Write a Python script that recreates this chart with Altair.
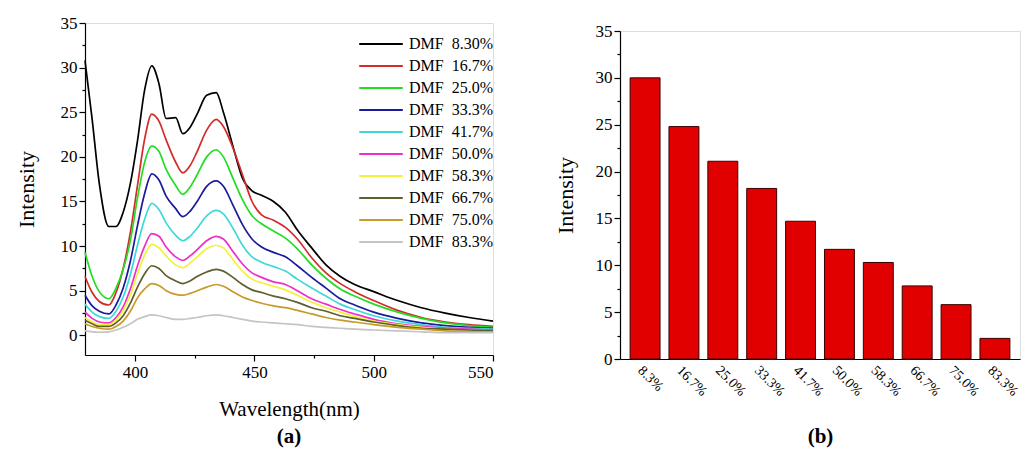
import altair as alt
import pandas as pd

# ---------------- data ----------------
wavelength = [379, 382, 385, 389, 392, 395, 398, 401, 404, 407, 410, 413, 417, 420,
              423, 426, 430, 434, 437, 441, 445, 449, 453, 458, 463, 468, 474, 480,
              486, 492, 500, 510, 520, 530, 540, 550]

series_names = ["DMF\u00a0\u00a08.30%", "DMF\u00a0\u00a016.7%", "DMF\u00a0\u00a025.0%",
                "DMF\u00a0\u00a033.3%", "DMF\u00a0\u00a041.7%", "DMF\u00a0\u00a050.0%",
                "DMF\u00a0\u00a058.3%", "DMF\u00a0\u00a066.7%", "DMF\u00a0\u00a075.0%",
                "DMF\u00a0\u00a083.3%"]
series_colors = ["#000000", "#d42a2a", "#22dd22", "#1a1a9a", "#3fd8d8",
                 "#ee2fc8", "#f2f23a", "#5e5e2e", "#c89a28", "#c4c4c4"]

s083 = [30.8, 24.2, 17.0, 12.2, 12.2, 13.8, 17.0, 21.8, 27.5, 30.2, 28.2, 24.3, 24.4, 22.6,
        23.3, 24.8, 26.9, 27.2, 25.0, 21.2, 17.6, 16.2, 15.7, 15.0, 13.8, 11.8, 9.8, 7.9,
        6.6, 5.7, 4.9, 3.9, 3.1, 2.5, 2.0, 1.6]
s167 = [6.6, 4.8, 3.8, 3.4, 4.8, 7.5, 11.5, 16.8, 22.0, 24.8, 24.0, 21.9, 19.4, 18.2,
        19.0, 20.6, 23.0, 24.2, 23.4, 21.0, 18.0, 15.0, 13.5, 12.9, 12.1, 10.8, 8.7, 7.0,
        5.8, 4.9, 3.9, 2.8, 2.0, 1.5, 1.2, 1.0]
s250 = [9.3, 6.6, 4.9, 4.1, 5.3, 7.4, 10.6, 15.4, 19.4, 21.2, 20.6, 18.6, 16.8, 15.8,
        16.6, 18.0, 20.0, 20.8, 20.0, 17.6, 15.2, 13.4, 12.5, 11.7, 10.9, 9.7, 7.9, 6.4,
        5.2, 4.4, 3.5, 2.6, 1.9, 1.4, 1.1, 0.9]
s333 = [4.5, 3.3, 2.7, 2.4, 3.4, 5.3, 8.3, 12.3, 15.9, 18.1, 17.4, 15.6, 14.2, 13.3,
        13.9, 15.0, 16.7, 17.3, 16.7, 14.6, 12.4, 10.8, 9.9, 9.3, 8.8, 7.8, 6.5, 5.3,
        4.1, 3.4, 2.6, 1.9, 1.4, 1.1, 0.9, 0.8]
s417 = [3.5, 2.6, 2.1, 1.9, 2.7, 4.3, 6.8, 10.1, 13.0, 14.8, 14.1, 12.6, 11.2, 10.6,
        11.1, 12.0, 13.4, 14.0, 13.6, 12.0, 10.1, 8.8, 8.2, 7.7, 7.2, 6.3, 5.3, 4.4,
        3.5, 2.9, 2.2, 1.6, 1.2, 0.9, 0.8, 0.7]
s500 = [2.6, 1.9, 1.5, 1.4, 2.0, 3.2, 5.2, 7.8, 10.0, 11.4, 11.1, 9.9, 8.8, 8.4,
        8.9, 9.6, 10.6, 11.1, 10.8, 9.4, 8.0, 7.0, 6.5, 6.0, 5.7, 5.0, 4.1, 3.5,
        2.9, 2.4, 1.8, 1.3, 1.0, 0.8, 0.7, 0.6]
s583 = [2.0, 1.5, 1.2, 1.2, 1.7, 2.8, 4.5, 6.9, 9.0, 10.2, 9.8, 8.9, 7.9, 7.6,
        8.1, 8.8, 9.7, 10.1, 9.8, 8.5, 7.2, 6.3, 5.9, 5.5, 5.1, 4.5, 3.7, 3.1,
        2.6, 2.1, 1.6, 1.2, 0.9, 0.7, 0.6, 0.5]
s667 = [1.7, 1.3, 1.0, 1.0, 1.4, 2.2, 3.6, 5.4, 6.9, 7.8, 7.5, 6.7, 6.1, 5.8,
        6.1, 6.6, 7.1, 7.4, 7.2, 6.5, 5.7, 5.1, 4.8, 4.4, 4.1, 3.7, 3.1, 2.7,
        2.2, 1.9, 1.5, 1.1, 0.8, 0.7, 0.6, 0.5]
s750 = [1.3, 1.0, 0.8, 0.7, 1.0, 1.6, 2.7, 4.2, 5.2, 5.8, 5.6, 5.0, 4.6, 4.5,
        4.7, 5.0, 5.4, 5.7, 5.5, 4.9, 4.3, 3.9, 3.6, 3.3, 3.1, 2.8, 2.4, 2.0,
        1.7, 1.5, 1.2, 0.9, 0.7, 0.5, 0.4, 0.4]
s833 = [0.5, 0.4, 0.35, 0.4, 0.6, 0.9, 1.3, 1.8, 2.1, 2.3, 2.2, 2.0, 1.8, 1.8,
        1.9, 2.0, 2.2, 2.3, 2.2, 2.0, 1.8, 1.6, 1.5, 1.4, 1.3, 1.2, 1.0, 0.9,
        0.8, 0.7, 0.6, 0.5, 0.4, 0.3, 0.3, 0.3]
all_series = [s083, s167, s250, s333, s417, s500, s583, s667, s750, s833]

bar_categories = ["8.3%", "16.7%", "25.0%", "33.3%", "41.7%", "50.0%", "58.3%", "66.7%", "75.0%", "83.3%"]
bar_values = [30.0, 24.8, 21.1, 18.2, 14.7, 11.7, 10.3, 7.8, 5.8, 2.2]

y_ticks = [i * 2.5 for i in range(15)]
x_ticks = [400, 425, 450, 475, 500, 525, 550]

FONT = "Liberation Serif"

# ---------------- tables ----------------
rows = []
for name, vals in zip(series_names, all_series):
    for w, v in zip(wavelength, vals):
        rows.append({"wl": w, "val": v, "series": name})
spec_df = pd.DataFrame(rows)
bar_df = pd.DataFrame({"cat": bar_categories, "v": bar_values})

axis_common = dict(domainColor="black", tickColor="black", labelColor="black",
                   titleColor="black", labelFont=FONT, titleFont=FONT,
                   titleFontWeight="normal", grid=False, domainWidth=1.2, tickWidth=1.2)

left = alt.Chart(spec_df).mark_line(strokeWidth=1.7, interpolate="monotone").encode(
    x=alt.X("wl:Q", scale=alt.Scale(domain=[379, 550], nice=False, zero=False),
            axis=alt.Axis(values=x_ticks, title="Wavelength(nm)",
                          labelExpr="datum.value % 50 === 0 ? datum.label : ''",
                          tickSize=alt.condition("datum.value % 50 === 0", alt.value(6), alt.value(3)),
                          labelFontSize=17, titleFontSize=21, titlePadding=18, labelPadding=3,
                          **axis_common)),
    y=alt.Y("val:Q", scale=alt.Scale(domain=[-2.2, 35], nice=False, zero=False),
            axis=alt.Axis(values=y_ticks, title="Intensity",
                          labelExpr="datum.value % 5 === 0 ? format(datum.value, 'd') : ''",
                          tickSize=alt.condition("datum.value % 5 === 0", alt.value(6), alt.value(3)),
                          labelFontSize=17, titleFontSize=22, titlePadding=22, labelPadding=2,
                          **axis_common)),
    color=alt.Color("series:N", sort=series_names,
                    scale=alt.Scale(domain=series_names, range=series_colors),
                    legend=alt.Legend(title=None, orient="none", legendX=273, legendY=13,
                                      symbolType="stroke", symbolSize=1900, symbolStrokeWidth=2,
                                      clipHeight=16, labelFont=FONT, labelFontSize=16,
                                      labelColor="black", rowPadding=6, labelOffset=5,
                                      padding=0)),
).properties(width=408, height=332,
             title=alt.TitleParams("(a)", orient="bottom", font=FONT, fontSize=21,
                                   fontWeight="bold", offset=7, color="black"))

right = alt.Chart(bar_df).mark_bar(color="#e00000", stroke="#3a0000", strokeWidth=1).encode(
    x=alt.X("cat:N", sort=bar_categories,
            scale=alt.Scale(paddingInner=0.23, paddingOuter=0.26),
            axis=alt.Axis(labelAngle=45, ticks=False, title="(b)", labelFontSize=14,
                          titleFontSize=21, titleFontWeight="bold", titlePadding=27,
                          labelPadding=4, domainColor="black", labelColor="black",
                          titleColor="black", labelFont=FONT, titleFont=FONT, domainWidth=1.2)),
    y=alt.Y("v:Q", scale=alt.Scale(domain=[0, 35], nice=False),
            axis=alt.Axis(values=y_ticks, title="Intensity",
                          labelExpr="datum.value % 5 === 0 ? format(datum.value, 'd') : ''",
                          tickSize=alt.condition("datum.value % 5 === 0", alt.value(6), alt.value(3)),
                          labelFontSize=17, titleFontSize=22, titlePadding=18, labelPadding=2,
                          **axis_common)),
).properties(width=400, height=328)

spacer = alt.Chart(bar_df).mark_point(opacity=0, size=0).properties(width=400, height=1)

right_col = alt.vconcat(spacer, right, spacing=-3)

chart = alt.hconcat(left, right_col, spacing=56).properties(
    padding={"left": 14, "top": 13, "right": 0, "bottom": 0}
).configure_view(stroke=None).configure(background="white")

chart.save("out.html", embed_options={"renderer": "svg", "actions": False})
